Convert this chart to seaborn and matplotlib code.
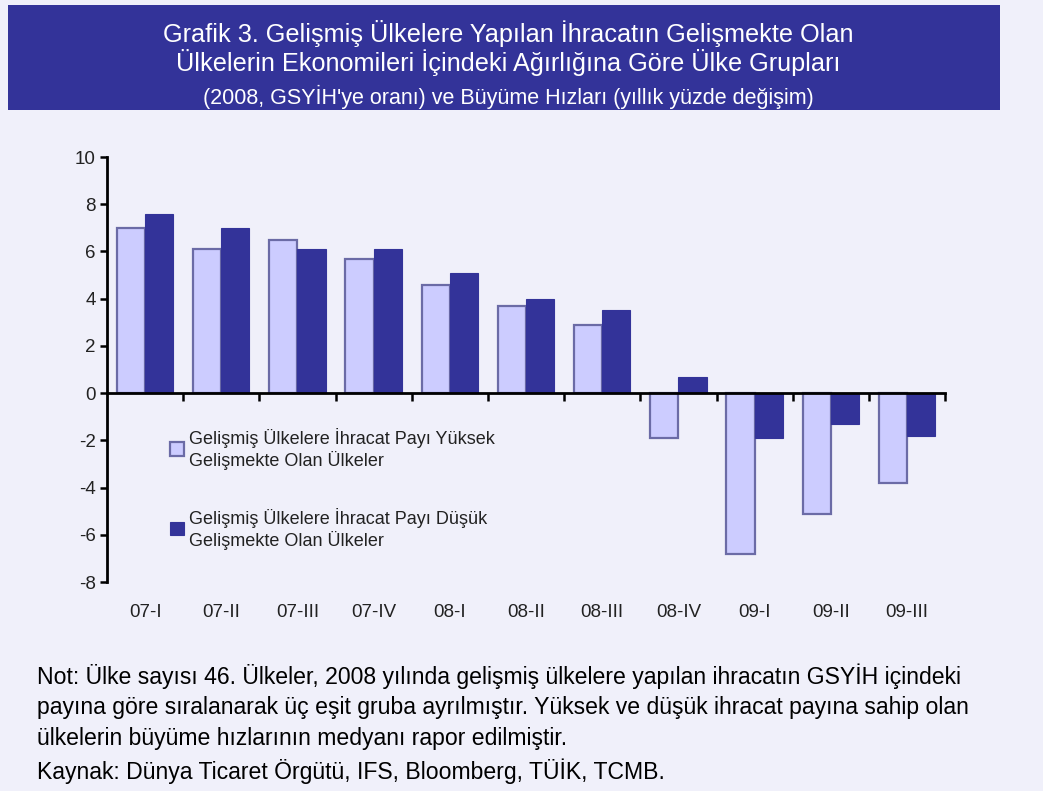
import pandas as pd
import matplotlib.pyplot as plt
from matplotlib.patches import Rectangle
from matplotlib.ticker import FixedLocator
import seaborn as sns

# Data
quarters = ["07-I", "07-II", "07-III", "07-IV", "08-I", "08-II",
            "08-III", "08-IV", "09-I", "09-II", "09-III"]
high_share = [7.0, 6.1, 6.5, 5.7, 4.6, 3.7, 2.9, -1.9, -6.8, -5.1, -3.8]
low_share = [7.6, 7.0, 6.1, 6.1, 5.1, 4.0, 3.5, 0.7, -1.9, -1.3, -1.8]

label_high = "Gelişmiş Ülkelere İhracat Payı Yüksek\nGelişmekte Olan Ülkeler"
label_low = "Gelişmiş Ülkelere İhracat Payı Düşük\nGelişmekte Olan Ülkeler"

title_lines = [
    "Grafik 3. Gelişmiş Ülkelere Yapılan İhracatın Gelişmekte Olan",
    "Ülkelerin Ekonomileri İçindeki Ağırlığına Göre Ülke Grupları",
    "(2008, GSYİH'ye oranı) ve Büyüme Hızları (yıllık yüzde değişim)",
]
note_lines = [
    "Not: Ülke sayısı 46. Ülkeler, 2008 yılında gelişmiş ülkelere yapılan ihracatın GSYİH içindeki",
    "payına göre sıralanarak üç eşit gruba ayrılmıştır. Yüksek ve düşük ihracat payına sahip olan",
    "ülkelerin büyüme hızlarının medyanı rapor edilmiştir.",
    "Kaynak: Dünya Ticaret Örgütü, IFS, Bloomberg, TÜİK, TCMB.",
]

BG = "#F0F0FA"
LIGHT = "#CCCCFF"
DARK = "#333399"

df = pd.DataFrame({
    "quarter": quarters * 2,
    "group": [label_high] * len(quarters) + [label_low] * len(quarters),
    "value": high_share + low_share,
})

sns.set_theme(style="white")
plt.rcParams["font.family"] = ["Liberation Sans", "DejaVu Sans"]
plt.rcParams["axes.unicode_minus"] = False

fig = plt.figure(figsize=(10.43, 7.91), dpi=100, facecolor=BG)
ax = fig.add_axes([0.1026, 0.2642, 0.8035, 0.5373], facecolor=BG)

sns.barplot(data=df, x="quarter", y="value", hue="group",
            palette={label_high: LIGHT, label_low: DARK},
            width=0.74, saturation=1, ax=ax, legend=False)

for p in ax.containers[0]:
    p.set_edgecolor("#6B6BA6")
    p.set_linewidth(1.6)
for p in ax.containers[1]:
    p.set_edgecolor(DARK)
    p.set_linewidth(0.8)

ax.set_ylim(-8, 10)
ax.set_xlim(-0.5, len(quarters) - 0.5)
ax.set_yticks(range(-8, 11, 2))
ax.set_xlabel("")
ax.set_ylabel("")

for s in ["top", "right"]:
    ax.spines[s].set_visible(False)
ax.spines["left"].set_color("black")
ax.spines["left"].set_linewidth(2)
ax.spines["bottom"].set_position(("data", 0))
ax.spines["bottom"].set_color("black")
ax.spines["bottom"].set_linewidth(2)

ax.tick_params(axis="y", which="major", direction="out", length=5, width=1.8,
               color="black", labelsize=13.5, labelcolor="#222222", pad=3, left=True)
ax.tick_params(axis="x", which="major", length=0, pad=152,
               labelsize=13.5, labelcolor="#222222")
ax.xaxis.set_minor_locator(FixedLocator([i + 0.5 for i in range(len(quarters))]))
ax.tick_params(axis="x", which="minor", direction="out", length=6, width=1.8,
               color="black", bottom=True)

h = [ax.containers[0][0], ax.containers[1][0]]
leg = ax.legend(h, [label_high, label_low], loc="upper left",
                bbox_to_anchor=(0.067, 0.38), frameon=False,
                fontsize=13, labelspacing=2.1, handlelength=0.75,
                handleheight=0.75, handletextpad=0.3, borderaxespad=0)
for t in leg.get_texts():
    t.set_color("#222222")

# title box
fig.patches.append(Rectangle((0.0077, 0.861), 0.951, 0.1327,
                             transform=fig.transFigure, facecolor=DARK,
                             edgecolor="none", zorder=0))
fig.text(0.487, 0.958, title_lines[0], ha="center", va="center",
         color="white", fontsize=18.2)
fig.text(0.487, 0.921, title_lines[1], ha="center", va="center",
         color="white", fontsize=18.2)
fig.text(0.487, 0.877, title_lines[2], ha="center", va="center",
         color="white", fontsize=15.5)

note_y = [0.145, 0.105, 0.067, 0.025]
for y, line in zip(note_y, note_lines):
    fig.text(0.035, y, line, ha="left", va="center", color="black",
             fontsize=16.6)

fig.savefig("out.png", dpi=100, facecolor=BG)
